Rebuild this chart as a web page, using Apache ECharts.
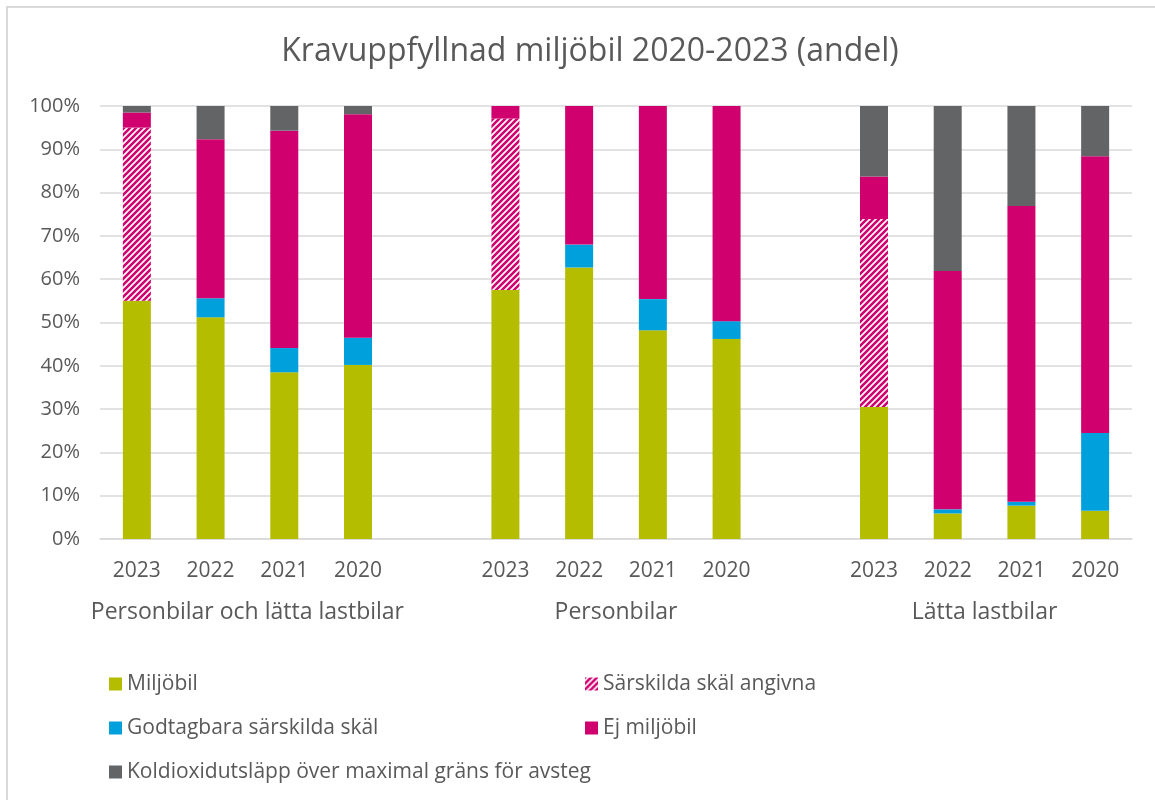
<!DOCTYPE html>
<html>
	<head>
		<meta charset="utf-8">
		<title>Kravuppfyllnad miljöbil 2020-2023</title>
		<script src="https://cdn.jsdelivr.net/npm/echarts@6/dist/echarts.min.js"></script>
		<style>
			html, body { margin: 0; padding: 0; background: #fff; }
			#ram { position: absolute; left: 6px; top: 6px; width: 1200px; height: 850px;
			       border-left: 2px solid #d9d9d9; border-top: 2px solid #d9d9d9; }
			#main { position: absolute; left: 0; top: 0; width: 1155px; height: 800px; }
		</style>
	</head>
	<body>
		<div id="ram"></div>
		<div id="main"></div>
		<script type="text/javascript">
			// kategorier: tre grupper med en tom plats emellan
			var years = ['2023', '2022', '2021', '2020', '',
			             '2023', '2022', '2021', '2020', '',
			             '2023', '2022', '2021', '2020'];
			var groups = ['Personbilar och lätta lastbilar', 'Personbilar', 'Lätta lastbilar'];
			// var grupp hamnar i mitten (värde på den andra x-axeln)
			var groupPos = [2, 7, 12];

			// andelar i procent
			var miljobil   = [55.0, 51.2, 38.5, 40.2, null, 57.5, 62.7, 48.2, 46.2, null, 30.5, 5.9, 7.7, 6.5];
			var sarskilda  = [40.0, 0, 0, 0, null, 39.6, 0, 0, 0, null, 43.4, 0, 0, 0];
			var godtagbara = [0, 4.4, 5.6, 6.3, null, 0, 5.3, 7.2, 4.1, null, 0, 0.95, 0.9, 18.0];
			var ejMiljobil = [3.5, 36.7, 50.2, 51.6, null, 2.9, 32.0, 44.6, 49.7, null, 9.8, 55.05, 68.3, 63.9];
			var koldioxid  = [1.5, 7.7, 5.7, 1.9, null, 0, 0, 0, 0, null, 16.3, 38.1, 23.1, 11.6];

			var textColor = '#595959';
			var fontFam = '"Open Sans", "Noto Sans", sans-serif';

			// randigt mönster för "Särskilda skäl angivna"
			function stripes() {
				var c = document.createElement('canvas');
				c.width = 6; c.height = 6;
				var ctx = c.getContext('2d');
				ctx.fillStyle = '#ffffff';
				ctx.fillRect(0, 0, 6, 6);
				ctx.strokeStyle = '#D0006F';
				ctx.lineWidth = 2.6;
				ctx.beginPath();
				ctx.moveTo(-1, 7); ctx.lineTo(7, -1);
				ctx.moveTo(-4, 4); ctx.lineTo(4, -4);
				ctx.moveTo(2, 10); ctx.lineTo(10, 2);
				ctx.stroke();
				return c;
			}

			var myChart = echarts.init(document.getElementById('main'), null, { renderer: 'canvas' });

			function bar(name, data, color) {
				return {
					name: name,
					type: 'bar',
					stack: 'andel',
					barWidth: 28,
					xAxisIndex: 0,
					data: data,
					itemStyle: { color: color }
				};
			}

			var legendText = { color: textColor, fontSize: 21, fontFamily: fontFam, lineHeight: 22 };

			var option = {
				animation: false,
				title: {
					text: 'Kravuppfyllnad miljöbil 2020-2023 (andel)',
					left: 585,
					textAlign: 'center',
					top: 31,
					textStyle: { color: textColor, fontSize: 32, fontWeight: 'normal', fontFamily: fontFam }
				},
				grid: { left: 100, right: 23, top: 106, bottom: 261 },
				legend: [
					{
						orient: 'vertical',
						left: 104, top: 668,
						itemWidth: 13, itemHeight: 13, itemGap: 22,
						icon: 'rect',
						textStyle: legendText,
						data: ['Miljöbil', 'Godtagbara särskilda skäl', 'Koldioxidutsläpp över maximal gräns för avsteg']
					},
					{
						orient: 'vertical',
						left: 580, top: 668,
						itemWidth: 13, itemHeight: 13, itemGap: 22,
						icon: 'rect',
						textStyle: legendText,
						data: ['Särskilda skäl angivna', 'Ej miljöbil']
					}
				],
				xAxis: [
					{
						type: 'category',
						data: years,
						axisTick: { show: false },
						axisLine: { lineStyle: { color: '#d9d9d9', width: 1.5 } },
						axisLabel: { color: textColor, fontSize: 21, fontFamily: fontFam, margin: 22, interval: 0 }
					},
					{
						// gruppnamn under årtalen
						type: 'value',
						position: 'bottom',
						min: 0, max: 14, interval: 1,
						axisTick: { show: false },
						axisLine: { show: false },
						splitLine: { show: false },
						axisLabel: {
							color: textColor, fontSize: 23, fontFamily: fontFam, margin: 62,
							showMinLabel: true, showMaxLabel: true,
							formatter: function (v) {
								var i = groupPos.indexOf(v);
								return i >= 0 ? groups[i] : '';
							}
						}
					}
				],
				yAxis: {
					type: 'value',
					min: 0, max: 100, interval: 10,
					axisLine: { show: false },
					axisTick: { show: false },
					splitLine: { lineStyle: { color: '#d9d9d9', width: 1.5 } },
					axisLabel: { color: textColor, fontSize: 20, fontFamily: fontFam, margin: 20, formatter: '{value}%' }
				},
				series: [
					bar('Miljöbil', miljobil, '#B5BD00'),
					bar('Särskilda skäl angivna', sarskilda, { image: stripes(), repeat: 'repeat' }),
					bar('Godtagbara särskilda skäl', godtagbara, '#00A0DC'),
					bar('Ej miljöbil', ejMiljobil, '#D0006F'),
					bar('Koldioxidutsläpp över maximal gräns för avsteg', koldioxid, '#636466')
				]
			};

			option && myChart.setOption(option);
		</script>
	</body>
</html>
